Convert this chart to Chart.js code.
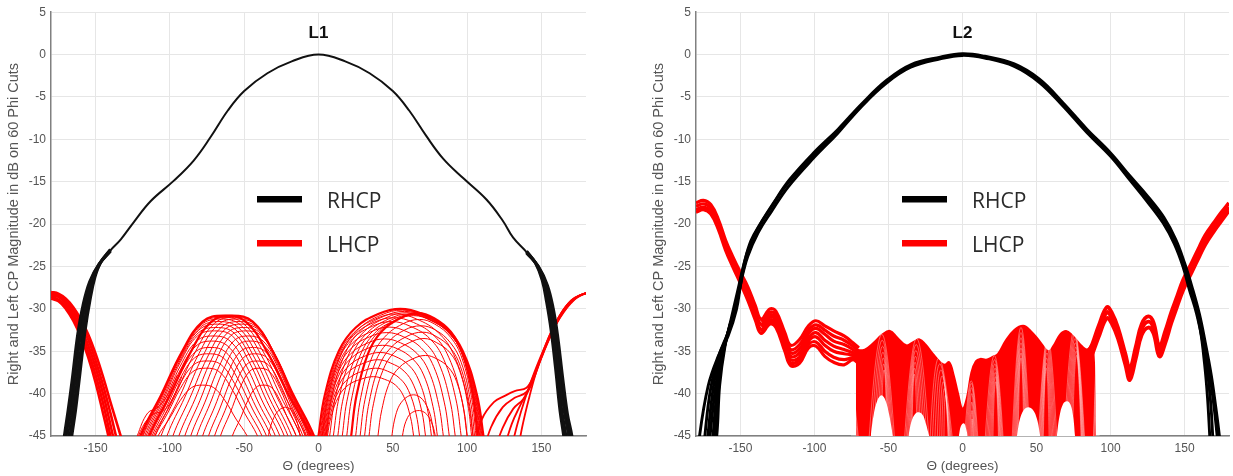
<!DOCTYPE html>
<html>
<head>
<meta charset="utf-8">
<script src="https://cdn.jsdelivr.net/npm/chart.js@4.4.1/dist/chart.umd.min.js"></script>
<style>
  html, body { margin: 0; padding: 0; background: #fff; }
  #wrap { position: relative; width: 1233px; height: 476px; }
  canvas { position: absolute; top: 0; }
</style>
</head>
<body>
<div id="wrap">
  <canvas id="chartL1" width="600" height="476" style="left:0px"></canvas>
  <canvas id="chartL2" width="588" height="476" style="left:645px"></canvas>
</div>
<script>
// axis ticks
var xTicks = [-150, -100, -50, 0, 50, 100, 150];
var yTicks = [5, 0, -5, -10, -15, -20, -25, -30, -35, -40, -45];
var legendLabels = ['RHCP', 'LHCP'];

// ---------- L1 : [theta, dB] ----------
var l1Rhcp = [
  [[-170.5,-48],[-168.5,-45],[-166,-42],[-163,-37.6],[-159.5,-32.5],[-156,-29],[-152,-26.4],[-147,-24.6],[-140,-23.1],[-133,-21.8],[-124,-19.7],[-113,-17.3],[-97.5,-14.9],[-84,-12.5],[-72.5,-9.7],[-61,-6.6],[-50,-4.3],[-34.4,-2.2],[-18,-0.8],[0,0],[18,-0.8],[34.4,-2.2],[50,-4.3],[61,-6.6],[72.5,-9.6],[84,-12.3],[97.5,-14.6],[113,-17.1],[124,-19.6],[131,-21.6],[140,-23.3],[147,-24.8],[152,-26.8],[155.5,-29.3],[158.5,-32.5],[161.5,-37],[165,-42],[168,-45],[170,-48]],
  [[-140,-23.2],[-148,-24.8],[-154,-26.8],[-158.5,-29.6],[-162,-33],[-165.5,-38],[-168.5,-42],[-171,-45],[-173,-48]],
  [[-140,-23.15],[-147.5,-24.7],[-153,-26.6],[-157.2,-29.3],[-160.8,-32.8],[-164.2,-37.8],[-167.2,-42],[-169.8,-45],[-171.8,-48]],
  [[-140,-23.05],[-146.8,-24.55],[-151.2,-26.35],[-154.9,-29],[-158.2,-32.5],[-161.8,-37.6],[-164.8,-42],[-167.2,-45],[-169.2,-48]],
  [[-140,-23],[-146.5,-24.5],[-150.5,-26.3],[-153.8,-29],[-157,-32.5],[-160.5,-37.6],[-163.5,-42],[-166,-45],[-168,-48]],
  [[140,-23.4],[148,-25],[154,-27.2],[158,-30],[161,-33.3],[164.2,-38],[167.5,-42.4],[170.5,-45],[172.5,-48]],
  [[140,-23.35],[147.5,-24.9],[153,-27],[156.7,-29.6],[159.8,-32.9],[162.8,-37.5],[166.2,-42.2],[169.2,-45],[171.2,-48]],
  [[140,-23.25],[146.5,-24.7],[151.2,-26.7],[154.5,-29.25],[157.5,-32.5],[160.5,-37],[163.7,-42],[166.5,-45],[168.5,-48]],
  [[140,-23.2],[146,-24.6],[150.5,-26.6],[153.5,-29.2],[156.5,-32.5],[159.5,-37],[162.5,-42],[165,-45],[167,-48]]
];
var l1FarLeft = [
  [[-180,-28],[-175,-28.2],[-170,-28.8],[-165,-29.8],[-160,-31.2],[-155,-33],[-150,-35.3],[-145,-38],[-140,-41],[-135,-43.9],[-130,-46.8]],
  [[-180,-28.2],[-175,-28.4],[-170,-29.1],[-165,-30.2],[-160,-31.7],[-155,-33.6],[-150,-36.1],[-145,-39],[-140,-42.3],[-136,-45.2],[-132,-48]],
  [[-180,-28.4],[-175,-28.6],[-170,-29.4],[-165,-30.6],[-160,-32.2],[-155,-34.3],[-150,-36.9],[-145,-40],[-141,-42.9],[-137,-46],[-134,-48]],
  [[-180,-28.6],[-175,-28.9],[-170,-29.7],[-165,-31],[-160,-32.7],[-155,-35],[-150,-37.8],[-145,-41.1],[-141,-44.2],[-138,-46.8]],
  [[-180,-28.8],[-175,-29.1],[-170,-30],[-165,-31.4],[-160,-33.3],[-155,-35.7],[-150,-38.7],[-145,-42.3],[-141,-45.3],[-139,-47]]
];
// outer envelopes of the two central lobes
var l1LobeEdges = [
  [[-125.6,-48.6],[-120,-45],[-106,-40.2],[-92,-35.1],[-78,-31.5],[-64,-30.8],[-49,-31.5],[-34.5,-35.1],[-20,-40.2],[-5,-45],[1,-48.6]],
  [[-119.6,-48.6],[-114,-45],[-100,-40.2],[-86,-35.1],[-72,-31.5],[-58,-30.8],[-44.25,-31.5],[-30.5,-35.1],[-16.75,-40.2],[-3,-45],[2.5,-48.6]],
  [[-3.3,-49.5],[0,-45],[4.4,-40.05],[13.75,-34.95],[24.75,-32.25],[40.15,-30.6],[55,-30],[70.1,-30.6],[85.8,-32.25],[97,-34.95],[106.5,-40.05],[111,-45],[114.4,-49.5]],
  [[19.3,-49.4],[22,-45],[25.6,-40.2],[33.25,-35.3],[42.25,-32.7],[54.85,-31.1],[67,-30.5],[77.8,-31.1],[89,-32.7],[97,-35.3],[103.8,-40.2],[107,-45],[109.4,-49.4]]
];
var l1LeftLobe = [
  [[-124.8,-48.5],[-119.5,-45],[-106,-40.25],[-92.25,-35.2],[-78.5,-31.7],[-65,-31],[-50.75,-31.7],[-36.75,-35.2],[-22.75,-40.25],[-8.5,-45],[-2.8,-48.5]],
  [[-124,-48.5],[-119,-45],[-106,-40.3],[-92.5,-35.3],[-79,-31.9],[-66,-31.2],[-52.5,-31.9],[-39,-35.3],[-25.5,-40.3],[-12,-45],[-6.6,-48.5]],
  [[-123.5,-48.4],[-118.5,-45],[-105.75,-40.4],[-92.75,-35.55],[-79.75,-32.2],[-67,-31.5],[-54,-32.2],[-41,-35.55],[-28,-40.4],[-15,-45],[-9.8,-48.4]],
  [[-123,-48.3],[-118,-45],[-105.5,-40.5],[-93,-35.8],[-80.5,-32.5],[-68,-31.8],[-55.5,-32.5],[-43,-35.8],[-30.5,-40.5],[-18,-45],[-13,-48.3]],
  [[-121.8,-48.2],[-117,-45],[-105,-40.65],[-93,-36.05],[-81,-32.85],[-69,-32.2],[-56.75,-32.85],[-44.75,-36.05],[-32.75,-40.65],[-20.5,-45],[-15.6,-48.2]],
  [[-120.6,-48.1],[-116,-45],[-104.5,-40.8],[-93,-36.3],[-81.5,-33.2],[-70,-32.6],[-58,-33.2],[-46.5,-36.3],[-35,-40.8],[-23,-45],[-18.3,-48.1]],
  [[-119.3,-48],[-115,-45],[-104,-41],[-93,-36.75],[-82,-33.8],[-71,-33.2],[-59.5,-33.8],[-48.5,-36.75],[-37.5,-41],[-26,-45],[-21.5,-48]],
  [[-118,-47.8],[-114,-45],[-103.5,-41.2],[-93,-37.2],[-82.5,-34.4],[-72,-33.8],[-61,-34.4],[-50.5,-37.2],[-40,-41.2],[-29,-45],[-24.7,-47.8]],
  [[-116.9,-47.6],[-113,-45],[-103,-41.45],[-93,-37.7],[-83,-35.1],[-73,-34.55],[-62.5,-35.1],[-52.5,-37.7],[-42.4,-41.45],[-32,-45],[-27.9,-47.6]],
  [[-115.8,-47.4],[-112,-45],[-102.5,-41.7],[-93,-38.2],[-83.5,-35.8],[-74,-35.3],[-64,-35.8],[-54.5,-38.2],[-44.75,-41.7],[-35,-45],[-31,-47.4]],
  [[-114.6,-47.2],[-111,-45],[-102,-42],[-93,-38.8],[-84,-36.6],[-75,-36.15],[-65.5,-36.6],[-56.5,-38.8],[-47.25,-42],[-38,-45],[-34.25,-47.2]],
  [[-113.4,-47],[-110,-45],[-101.5,-42.3],[-93,-39.4],[-84.5,-37.4],[-76,-37],[-67,-37.4],[-58.5,-39.4],[-49.75,-42.3],[-41,-45],[-37.5,-47]],
  [[-111,-46.5],[-108,-45],[-100.5,-43],[-93,-40.8],[-85.5,-39.3],[-78,-39],[-70.5,-39.3],[-63,-40.8],[-55.5,-43],[-48,-45],[-45,-46.5]],
  [[-115.3,-48.5],[-110,-45],[-96.6,-40.25],[-83.25,-35.2],[-69.9,-31.7],[-56.5,-31],[-43.25,-31.7],[-30,-35.2],[-16.75,-40.25],[-3.5,-45],[1.75,-48.5]],
  [[-111,-48.5],[-106,-45],[-93.25,-40.3],[-80.5,-35.3],[-67.75,-31.9],[-55,-31.2],[-42.25,-31.9],[-29.5,-35.3],[-16.75,-40.3],[-4,-45],[1,-48.5]],
  [[-106.8,-48.4],[-102,-45],[-89.9,-40.4],[-77.75,-35.55],[-65.6,-32.2],[-53.5,-31.5],[-41.25,-32.2],[-29,-35.55],[-16.75,-40.4],[-4.5,-45],[0.35,-48.4]],
  [[-102.6,-48.3],[-98,-45],[-86.5,-40.5],[-75,-35.8],[-63.5,-32.5],[-52,-31.8],[-40.25,-32.5],[-28.5,-35.8],[-16.75,-40.5],[-5,-45],[-0.3,-48.3]],
  [[-98.4,-48.2],[-94,-45],[-83.1,-40.65],[-72.25,-36.05],[-61.4,-32.85],[-50.5,-32.2],[-39.25,-32.85],[-28,-36.05],[-16.75,-40.65],[-5.5,-45],[-1,-48.2]],
  [[-94.1,-48.1],[-90,-45],[-79.75,-40.8],[-69.5,-36.3],[-59.25,-33.2],[-49,-32.6],[-38.25,-33.2],[-27.5,-36.3],[-16.75,-40.8],[-6,-45],[-1.7,-48.1]],
  [[-89.9,-48],[-86,-45],[-76.4,-41],[-66.75,-36.75],[-57.1,-33.8],[-47.5,-33.2],[-37.25,-33.8],[-27,-36.75],[-16.75,-41],[-6.5,-45],[-2.4,-48]],
  [[-85.6,-47.8],[-82,-45],[-73,-41.2],[-64,-37.2],[-55,-34.4],[-46,-33.8],[-36.25,-34.4],[-26.5,-37.2],[-16.75,-41.2],[-7,-45],[-3.1,-47.8]],
  [[-81.4,-47.6],[-78,-45],[-69.6,-41.45],[-61.25,-37.7],[-52.9,-35.1],[-44.5,-34.55],[-35.4,-35.1],[-26.25,-37.7],[-17.1,-41.45],[-8,-45],[-4.35,-47.6]],
  [[-77.1,-47.4],[-74,-45],[-66.25,-41.7],[-58.5,-38.2],[-50.75,-35.8],[-43,-35.3],[-34.5,-35.8],[-26,-38.2],[-17.5,-41.7],[-9,-45],[-5.6,-47.4]],
  [[-72.9,-47.2],[-70,-45],[-62.9,-42],[-55.75,-38.8],[-48.6,-36.6],[-41.5,-36.15],[-33.75,-36.6],[-26,-38.8],[-18.25,-42],[-10.5,-45],[-7.4,-47.2]],
  [[-68.6,-47],[-66,-45],[-59.5,-42.3],[-53,-39.4],[-46.5,-37.4],[-40,-37],[-33,-37.4],[-26,-39.4],[-19,-42.3],[-12,-45],[-9.2,-47]],
  [[-60.1,-46.5],[-58,-45],[-52.75,-43],[-47.5,-40.8],[-42.25,-39.3],[-37,-39],[-31.5,-39.3],[-26,-40.8],[-20.5,-43],[-15,-45],[-12.8,-46.5]],
  [[-128,-48],[-122,-45],[-115,-42.3],[-108,-41.6],[-101,-40],[-95,-37.8]],
  [[-126,-48],[-120,-44.5],[-112,-42.5],[-104,-42],[-98,-40.5],[-92,-38]],
  [[-36,-47],[-30,-42.8],[-22,-41.6],[-15,-43],[-11,-47]]
];
var l1RightLobe = [
  [[-0.75,-49.45],[2.5,-45],[6.8,-40.1],[16,-35.05],[26.8,-32.4],[41.9,-30.75],[56.5,-30.15],[71,-30.75],[86.2,-32.4],[97,-35.05],[106.15,-40.1],[110.5,-45],[113.75,-49.45]],
  [[1.8,-49.4],[5,-45],[9.25,-40.15],[18.25,-35.15],[28.85,-32.5],[43.7,-30.9],[58,-30.3],[72,-30.9],[86.6,-32.5],[97,-35.15],[105.8,-40.15],[110,-45],[113.1,-49.4]],
  [[4.35,-49.35],[7.5,-45],[11.7,-40.2],[20.5,-35.3],[30.9,-32.65],[45.45,-31.05],[59.5,-30.45],[73,-31.05],[87,-32.65],[97,-35.3],[105.5,-40.2],[109.5,-45],[112.5,-49.35]],
  [[6.9,-49.3],[10,-45],[14.1,-40.25],[22.75,-35.4],[32.95,-32.8],[47.2,-31.2],[61,-30.6],[74,-31.2],[87.4,-32.8],[97,-35.4],[105.2,-40.25],[109,-45],[111.9,-49.3]],
  [[10,-49.3],[13,-45],[16.95,-40.3],[25.4,-35.45],[35.3,-32.85],[49.1,-31.3],[62.5,-30.7],[74.95,-31.3],[87.8,-32.85],[97,-35.45],[104.85,-40.3],[108.5,-45],[111.25,-49.3]],
  [[13.1,-49.3],[16,-45],[19.8,-40.3],[28,-35.5],[37.6,-32.9],[51,-31.4],[64,-30.8],[75.9,-31.4],[88.2,-32.9],[97,-35.5],[104.5,-40.3],[108,-45],[110.6,-49.3]],
  [[16.2,-49.35],[19,-45],[22.7,-40.25],[30.6,-35.4],[39.9,-32.8],[52.9,-31.25],[65.5,-30.65],[76.85,-31.25],[88.6,-32.8],[97,-35.4],[104.15,-40.25],[107.5,-45],[110,-49.35]],
  [[22.4,-49.15],[25,-45],[28.45,-40.45],[35.75,-35.8],[44.35,-33.35],[56.4,-31.8],[68,-31.25],[78.25,-31.8],[88.9,-33.35],[96.5,-35.8],[102.95,-40.45],[106,-45],[108.3,-49.15]],
  [[25.5,-48.9],[28,-45],[31.3,-40.7],[38.25,-36.3],[46.45,-34],[57.9,-32.5],[69,-32],[78.7,-32.5],[88.8,-34],[96,-36.3],[102.1,-40.7],[105,-45],[107.2,-48.9]],
  [[28.65,-48.7],[31,-45],[34.15,-40.95],[40.75,-36.8],[48.55,-34.6],[59.45,-33.25],[70,-32.75],[79.15,-33.25],[88.7,-34.6],[95.5,-36.8],[101.25,-40.95],[104,-45],[106.05,-48.7]],
  [[31.8,-48.5],[34,-45],[37,-41.2],[43.25,-37.3],[50.65,-35.2],[61,-34],[71,-33.5],[79.6,-34],[88.6,-35.2],[95,-37.3],[100.4,-41.2],[103,-45],[104.9,-48.5]],
  [[38.1,-47.9],[40,-45],[42.6,-41.9],[48,-38.6],[54.4,-36.9],[63.4,-35.9],[72,-35.5],[79.6,-35.9],[87.4,-36.9],[93,-38.6],[97.8,-41.9],[100,-45],[101.7,-47.9]],
  [[-2.1,-49.3],[1,-45],[5.1,-40.25],[13.75,-35.4],[23.95,-32.8],[38.2,-31.2],[52,-30.6],[66,-31.2],[80.6,-32.8],[91,-35.4],[99.8,-40.25],[104,-45],[107.1,-49.3]],
  [[-1.45,-49.15],[1.5,-45],[5.4,-40.4],[13.75,-35.7],[23.55,-33.15],[37.25,-31.6],[50.5,-31.05],[63.85,-31.6],[77.7,-33.15],[87.6,-35.7],[96,-40.4],[100,-45],[102.95,-49.15]],
  [[-0.8,-49],[2,-45],[5.75,-40.5],[13.75,-35.95],[23.15,-33.5],[36.3,-32.05],[49,-31.5],[61.7,-32.05],[74.85,-33.5],[84.25,-35.95],[92.25,-40.5],[96,-45],[98.8,-49]],
  [[-0.2,-48.85],[2.5,-45],[6.1,-40.75],[13.75,-36.4],[22.75,-34.05],[35.35,-32.7],[47.5,-32.15],[59.5,-32.7],[72,-34.05],[80.9,-36.4],[88.4,-40.75],[92,-45],[94.65,-48.85]],
  [[0.4,-48.7],[3,-45],[6.45,-41],[13.75,-36.8],[22.35,-34.6],[34.4,-33.3],[46,-32.8],[57.3,-33.3],[69.1,-34.6],[77.5,-36.8],[84.6,-41],[88,-45],[90.5,-48.7]],
  [[1,-48.45],[3.5,-45],[6.8,-41.25],[13.75,-37.3],[21.95,-35.25],[33.45,-34],[44.5,-33.55],[55.15,-34],[66.2,-35.25],[74.1,-37.3],[80.8,-41.25],[84,-45],[86.35,-48.45]],
  [[1.7,-48.2],[4,-45],[7.1,-41.5],[13.75,-37.8],[21.55,-35.9],[32.5,-34.7],[43,-34.3],[53,-34.7],[63.35,-35.9],[70.75,-37.8],[77,-41.5],[80,-45],[82.2,-48.2]],
  [[2.3,-47.95],[4.5,-45],[7.45,-41.75],[13.75,-38.4],[21.15,-36.6],[31.5,-35.55],[41.5,-35.15],[50.8,-35.55],[60.5,-36.6],[67.4,-38.4],[73.2,-41.75],[76,-45],[78,-47.95]],
  [[2.9,-47.7],[5,-45],[7.8,-42],[13.75,-39],[20.75,-37.35],[30.55,-36.4],[40,-36],[48.6,-36.4],[57.6,-37.35],[64,-39],[69.4,-42],[72,-45],[73.9,-47.7]],
  [[3.5,-47.4],[5.5,-45],[8.15,-42.35],[13.75,-39.65],[20.35,-38.2],[29.6,-37.35],[38.5,-37],[46.45,-37.35],[54.7,-38.2],[60.6,-39.65],[65.6,-42.35],[68,-45],[69.75,-47.4]],
  [[4.1,-47.1],[6,-45],[8.5,-42.7],[13.75,-40.3],[19.95,-39],[28.6,-38.3],[37,-38],[44.3,-38.3],[51.85,-39],[57.25,-40.3],[61.8,-42.7],[64,-45],[65.6,-47.1]],
  [[48,-47],[52,-42.5],[58,-40.6],[66,-40.2],[73,-41.5],[77,-44],[79,-47]],
  [[55,-46.5],[60,-42.8],[68,-42],[75,-43],[80,-46]]
];
var l1FarRight = [
  [[104,-47],[110,-43],[118,-41],[125,-40.3],[132,-39.7],[140,-39.3],[145,-37.8],[150,-35.6],[155,-33.6],[160,-31.8],[165,-30.4],[170,-29.3],[175,-28.5],[180,-28.2]],
  [[110,-47.5],[116,-44],[124,-41.6],[132,-40.5],[140,-39.8],[146,-37.5],[152,-34.8],[158,-32.4],[165,-30.3],[172,-28.9],[180,-28.1]],
  [[118,-47],[124,-44],[131,-41.8],[138,-40.6],[144,-38.6],[150,-35.8],[157,-32.9],[165,-30.2],[172,-28.8],[180,-28.1]],
  [[124,-47],[130,-43.6],[136,-41.3],[142,-39.3],[148,-36.6],[155,-33.5],[163,-30.6],[171,-28.9],[180,-28.1]],
  [[129,-47],[134,-43.5],[139,-40.6],[145,-37.6],[152,-34.6],[160,-31.5],[168,-29.4],[176,-28.4],[180,-28.2]],
  [[133,-48],[137,-44],[142,-40.3],[148,-36.6],[155,-33.3],[162,-30.9],[170,-29],[177,-28.3],[180,-28.2]]
];

// ---------- L2 ----------
var l2Rhcp = [
  [[-180,-50],[-177.6,-45],[-171.8,-39.1],[-165,-35.6],[-158.3,-33.2],[-152.7,-30.1],[-149.3,-26.6],[-145,-23.8],[-138,-21],[-129,-18.5],[-117.7,-15.6],[-100,-12.1],[-84.4,-9.3],[-68.6,-6.2],[-51.6,-3.4],[-35,-1.5],[-15,-0.5],[0,-0.1],[15,-0.4],[35,-1.4],[52,-3.3],[68,-6.1],[84,-9.2],[100,-12],[113.5,-14.9],[125,-17.4],[135.6,-19.9],[143,-22.3],[148.9,-25],[153,-27.6],[158,-30.5],[162,-33.7],[165,-36.8],[167.5,-40.8],[169,-45],[170.5,-50]],
  [[-173,-50],[-170.5,-45],[-167,-39.5],[-163,-35.5],[-158,-32.5],[-153,-29.5],[-149.5,-26.3],[-145.5,-23.4],[-138.5,-20.6],[-129.5,-18.1],[-118,-15.2],[-100,-11.8],[-84,-9],[-68,-6],[-51,-3.2],[-35,-1.4],[-15,-0.4],[0,0],[15,-0.3],[35,-1.2],[52,-3.1],[68,-5.9],[84,-9],[100,-11.8],[113.5,-14.6],[125,-17],[136,-19.5],[143.5,-22],[149.5,-24.7],[154,-27.4],[159,-30.5],[163,-33.8],[166.5,-37.2],[169.5,-41],[172,-45],[174,-49]],
  [[-170,-50],[-166,-45],[-164,-39],[-160.5,-34.5],[-156,-31],[-152,-28],[-148,-25],[-143,-22],[-136,-19.8],[-128,-17.6],[-117,-14.8],[-100,-11.5],[-84,-8.8],[-68,-5.8],[-51,-3],[-35,-1.2],[-15,-0.3],[0,0.1],[15,-0.2],[35,-1.1],[52,-2.9],[68,-5.7],[84,-8.8],[100,-11.6],[113,-14.3],[125,-16.7],[136,-19.2],[144,-21.8],[150,-24.6],[155,-27.4],[160,-30.6],[164,-34],[168,-37.8],[171,-41.5],[173.5,-45],[175,-48]],
  [[-175,-50],[-172,-45],[-168.5,-39.5],[-164,-35.4],[-158,-32.8],[-153,-29.8],[-149.5,-26.5],[-146,-24]],
  [[-176,-50],[-174,-45],[-170,-39.3],[-164.5,-35.5],[-158,-32.6],[-153,-29.6],[-149,-26.4]],
  [[-170.5,-50],[-168.5,-45],[-165.5,-39.2],[-161.5,-35],[-157,-32],[-152.5,-29],[-149,-26]],
  [[-168,-50],[-167,-45],[-165,-39.1],[-161,-34.7],[-156.5,-31.5]],
  [[150,-24.8],[156,-28.5],[160.5,-32.3],[163.5,-36.5],[165.5,-40.5],[167,-45],[168,-48]]
];
var l2LhcpLeft = [
  [[-180,-17.5],[-175,-17.2],[-170,-17.7],[-165,-19.4],[-160,-21.9],[-155,-23.9],[-150,-25.7],[-145,-27.4],[-140,-29.6],[-136,-31.2],[-130,-30],[-126,-30.3],[-120,-32.8],[-116,-34.3],[-110,-33.6],[-104,-32],[-99,-31.4],[-93,-32],[-87,-32.6],[-80,-33.2],[-74,-34],[-70,-34.6]],
  [[-180,-17.9],[-175,-17.6],[-170,-18.1],[-165,-19.9],[-160,-22.4],[-155,-24.4],[-150,-26.2],[-145,-28],[-140,-30.2],[-136,-31.8],[-130,-30.7],[-126,-31],[-120,-33.6],[-116,-35.2],[-110,-34.7],[-104,-32.9],[-99,-32.3],[-93,-33],[-87,-33.8],[-80,-34.2],[-74,-34.8],[-70,-35.5]],
  [[-180,-18.3],[-175,-18],[-170,-18.5],[-165,-20.3],[-160,-22.8],[-155,-24.8],[-150,-26.7],[-145,-28.6],[-140,-30.8],[-136,-32.4],[-130,-31.3],[-126,-31.6],[-120,-34.3],[-116,-36],[-110,-35.7],[-104,-33.8],[-99,-33.3],[-93,-34.3],[-87,-35],[-80,-35.3],[-74,-35.5],[-70,-36.2]],
  [[-180,-18.6],[-175,-18.3],[-170,-18.8],[-165,-20.6],[-160,-23.1],[-155,-25.1],[-150,-27],[-145,-29],[-140,-31.3],[-136,-32.9],[-130,-31.8],[-126,-32.2],[-120,-35],[-116,-36.7],[-110,-36.4],[-104,-34.6],[-99,-34.4],[-93,-35.6],[-87,-36.3],[-80,-36.6],[-74,-36],[-70,-36.5]],
  [[-136,-31.5],[-130,-30.4],[-126,-30.7],[-120,-33.2],[-116,-34.8],[-110,-34.2],[-104,-32.5],[-99,-31.9],[-93,-32.5],[-87,-33.2],[-80,-33.7],[-74,-34.4],[-70,-35]],
  [[-136,-32.1],[-130,-31],[-126,-31.3],[-120,-34],[-116,-35.6],[-110,-35.2],[-104,-33.4],[-99,-32.8],[-93,-33.7],[-87,-34.4],[-80,-34.8],[-74,-35.2],[-70,-35.8]],
  [[-136,-32.7],[-130,-31.6],[-126,-31.9],[-120,-34.7],[-116,-36.4],[-110,-36],[-104,-34.2],[-99,-33.9],[-93,-35],[-87,-35.7],[-80,-36],[-74,-35.8],[-70,-36.3]]
];
// upper edge of the dense middle region (filled down to the floor)
var l2MidTop = [[-72,-34.9],[-66,-34.8],[-60,-34],[-54,-33],[-49,-32.6],[-44,-33.4],[-38,-34.3],[-33,-33.9],[-29,-33.6],[-25,-34.2],[-20,-35.3],[-15,-36.3],[-12,-36.6],[-9,-36.3],[-6,-37.8],[-3,-40],[0,-41.8],[3,-40.5],[6,-37.5],[9,-36.2],[12,-35.9],[16,-36],[20,-35.7],[24,-35.3],[29,-33.8],[35,-32.5],[41,-32],[46,-32.6],[52,-33.8],[58,-35],[62,-34.2],[66,-33],[70,-32.6],[74,-33.1],[79,-34.1],[84,-34.8],[88,-34.2],[89.5,-45]];
// empty arches under the middle region
var l2MidHoles = [
  [[-62,-45],[-60,-42.5],[-57.5,-40.8],[-54.7,-40.2],[-52,-40.8],[-49.5,-42.5],[-47,-45]],
  [[-36.5,-45],[-34.5,-43.3],[-32,-42.4],[-29.6,-42.2],[-27,-42.5],[-25,-43.4],[-22.5,-45]],
  [[-2.5,-45],[-1,-43.8],[1,-43.5],[2.5,-44.2],[3.5,-45]],
  [[36.8,-45],[38.8,-43],[41.5,-41.9],[44.4,-41.6],[47.5,-41.9],[50.3,-43],[52.5,-45]],
  [[63.7,-45],[65.5,-42.7],[68,-41.2],[70.6,-40.9],[73,-41.3],[74.8,-42.8],[76,-45]]
];
// single cuts visible as streaks inside the middle region
var l2LhcpMid = [
  [[-76,-34.2],[-71,-60],[-54.5,-33],[-38,-60],[-32.5,-37.7],[-27,-60],[-16,-35.8],[4,-60],[6.5,-43],[9,-60],[21.5,-35.5],[34,-60],[39.5,-35.8],[45,-60],[57.5,-33.5],[70,-60],[77,-35.5],[84,-60],[91,-32.4]],
  [[-76,-34.5],[-69,-60],[-54.25,-33.7],[-39.5,-60],[-32.25,-37],[-25,-60],[-15.4,-36.5],[2.5,-60],[6.4,-42],[10.3,-60],[21.65,-36],[33,-60],[39.5,-35.2],[46,-60],[57.35,-34],[68.7,-60],[76.75,-35],[84.8,-60],[91,-32.6]],
  [[-76,-34.8],[-67,-60],[-54,-34.4],[-41,-60],[-32,-36.3],[-23,-60],[-14.6,-37.2],[1,-60],[6.3,-41],[11.6,-60],[21.8,-36.5],[32,-60],[39.5,-34.6],[47,-60],[57.2,-34.6],[67.4,-60],[76.5,-34.5],[85.6,-60],[91.5,-32.8]],
  [[-76,-35.1],[-65,-60],[-53.75,-35.1],[-42.5,-60],[-31.75,-35.6],[-21,-60],[-13.8,-37.9],[-0.5,-60],[6.2,-40],[12.9,-60],[21.95,-37],[31,-60],[39.5,-34],[48,-60],[57.05,-35.2],[66.1,-60],[76.25,-34],[86.4,-60],[92,-33]],
  [[-76,-35.4],[-63,-60],[-53.5,-35.8],[-44,-60],[-31.5,-34.9],[-19,-60],[-13,-38.6],[-2,-60],[6.1,-39.3],[14.2,-60],[22.1,-37.5],[30,-60],[39.5,-33.4],[49,-60],[56.9,-35.8],[64.8,-60],[76,-33.5],[87.2,-60],[92.5,-33.2]],
  [[-76,-35.7],[-61,-60],[-53.25,-36.5],[-45.5,-60],[-31.25,-34.2],[-17,-60],[-12.3,-39.4],[-3.5,-60],[6,-38.8],[15.5,-60],[22.25,-38],[29,-60],[39.5,-32.8],[50,-60],[56.75,-36.4],[63.5,-60],[75.75,-33],[88,-60],[93,-33.4]],
  [[-76,-36],[-59,-60],[-53,-37.2],[-47,-60],[-31,-33.5],[-15,-60],[-11.5,-40.2],[-5,-60],[5.9,-38.5],[16.8,-60],[22.4,-38.6],[28,-60],[39.5,-32.2],[51,-60],[56.6,-37],[62.2,-60],[75.5,-32.5],[88.8,-60],[93.5,-33.6]]
];
var l2LhcpRight = [
  [[86,-34.8],[88,-34],[92,-32],[97.5,-29.8],[101,-30.5],[105,-32.2],[110,-35.3],[113,-37],[117,-34.5],[121,-31.8],[125.5,-30.9],[129,-31.6],[133,-34.4],[137,-32.6],[141,-30.4],[145,-28.5],[149,-26.6],[155,-24.5],[160,-22.7],[164,-21.3],[170,-19.8],[175,-18.6],[180,-17.5]],
  [[86,-35.4],[88,-34.6],[92,-32.6],[97.5,-30.4],[101,-31.1],[105,-32.8],[110,-36],[113,-37.7],[117,-35.2],[121,-32.4],[125.5,-31.5],[129,-32.2],[133,-35],[137,-33.3],[141,-31.1],[145,-29.1],[149,-27.2],[155,-25.1],[160,-23.3],[164,-21.9],[170,-20.3],[175,-19.1],[180,-18]],
  [[86,-36],[88,-35.2],[92,-33.3],[97.5,-31.1],[101,-31.8],[105,-33.5],[110,-36.6],[113,-38.4],[117,-35.9],[121,-33.1],[125.5,-32.2],[129,-32.9],[133,-35.6],[137,-34],[141,-31.7],[145,-29.7],[149,-27.8],[155,-25.6],[160,-23.8],[164,-22.4],[170,-20.8],[175,-19.6],[180,-18.4]]
];

var RED = '#ff0000';
var BLACK = '#000000';
var FONT = '"Liberation Sans", Arial, sans-serif';

function lines(curves, color, width, order) {
  return curves.map(function (c, i) {
    return {
      data: c.map(function (p) { return { x: p[0], y: p[1] }; }),
      borderColor: color,
      borderWidth: typeof width === 'function' ? width(i) : width,
      pointRadius: 0,
      tension: 0.4,
      fill: false,
      order: order || 0
    };
  });
}

function areas(curves, color, order) {
  return lines(curves, color, 0, order).map(function (d) {
    d.fill = { value: -45 };
    d.backgroundColor = color;
    return d;
  });
}

// title inside the plot and the hand placed legend
var overlay = {
  id: 'overlay',
  afterDraw: function (chart, args, opts) {
    var ctx = chart.ctx, a = chart.chartArea, x = chart.scales.x;
    ctx.save();
    ctx.fillStyle = '#111';
    ctx.textAlign = 'center';
    ctx.textBaseline = 'middle';
    ctx.font = 'bold 17px ' + FONT;
    ctx.fillText(opts.title, x.getPixelForValue(0), a.top + 21);

    var colors = [BLACK, RED];
    ctx.textAlign = 'left';
    ctx.font = '21px "Open Sans", sans-serif';
    legendLabels.forEach(function (label, i) {
      var y = a.top + 187 + i * 44;
      ctx.strokeStyle = colors[i];
      ctx.lineWidth = 6.5;
      ctx.beginPath();
      ctx.moveTo(a.left + 206, y);
      ctx.lineTo(a.left + 251, y);
      ctx.stroke();
      ctx.fillStyle = '#2a2a2a';
      ctx.fillText(label, a.left + 276, y + 3);
    });
    ctx.restore();
  }
};

function makeChart(id, title, datasets, rightPad) {
  var tickFont = { family: FONT, size: 12 };
  return new Chart(document.getElementById(id), {
    type: 'line',
    data: { datasets: datasets },
    plugins: [overlay],
    options: {
      responsive: false,
      animation: false,
      devicePixelRatio: 1,
      layout: { padding: { top: 4, right: rightPad, bottom: 0, left: 0 } },
      plugins: {
        legend: { display: false },
        tooltip: { enabled: false },
        overlay: { title: title }
      },
      scales: {
        x: {
          type: 'linear',
          min: -180,
          max: 180,
          afterBuildTicks: function (s) { s.ticks = xTicks.map(function (v) { return { value: v }; }); },
          afterFit: function (s) { s.height = 40; },
          grid: { color: '#e6e6e6', drawTicks: false },
          border: { color: '#808080', width: 1.5 },
          ticks: { color: '#555', font: tickFont, padding: 5, maxRotation: 0 },
          title: { display: true, text: 'Θ (degrees)', color: '#555',
                   font: { family: FONT, size: 13.5 },
                   padding: { top: 0, bottom: 2 } }
        },
        y: {
          min: -45,
          max: 5,
          afterBuildTicks: function (s) { s.ticks = yTicks.map(function (v) { return { value: v }; }); },
          afterFit: function (s) { s.width = 51; },
          grid: { color: '#e6e6e6', drawTicks: false },
          border: { color: '#808080', width: 1.5 },
          ticks: { color: '#555', font: tickFont, padding: 5 },
          title: { display: true, text: 'Right and Left CP Magnitude in dB on 60 Phi Cuts', color: '#555',
                   font: { family: FONT, size: 14.5 },
                   padding: { top: 5, bottom: 0 } }
        }
      }
    }
  });
}

makeChart('chartL1', 'L1', []
  .concat(lines(l1Rhcp, '#111', function (i) { return i === 0 ? 2 : 3; }))
  .concat(lines(l1FarLeft, RED, 2.6, 1))
  .concat(lines(l1LobeEdges, RED, 2.2, 1))
  .concat(lines(l1LeftLobe, RED, 1, 1))
  .concat(lines(l1RightLobe, RED, 1, 1))
  .concat(lines(l1FarRight, RED, 1.8, 1)), 14);

var midFill = areas([l2MidTop], RED, 5)[0];
midFill.borderWidth = 2;
midFill.borderColor = RED;

makeChart('chartL2', 'L2', []
  .concat(lines(l2Rhcp, BLACK, 2.9, 0))
  .concat(lines(l2LhcpLeft, RED, 3.2, 1))
  .concat(lines(l2LhcpRight, RED, 3.8, 1))
  .concat(areas(l2MidHoles, '#ffffff', 2))
  .concat(lines(l2LhcpMid, 'rgba(255,255,255,0.45)', 0.8, 3))
  .concat([midFill]), 4);
</script>
</body>
</html>
